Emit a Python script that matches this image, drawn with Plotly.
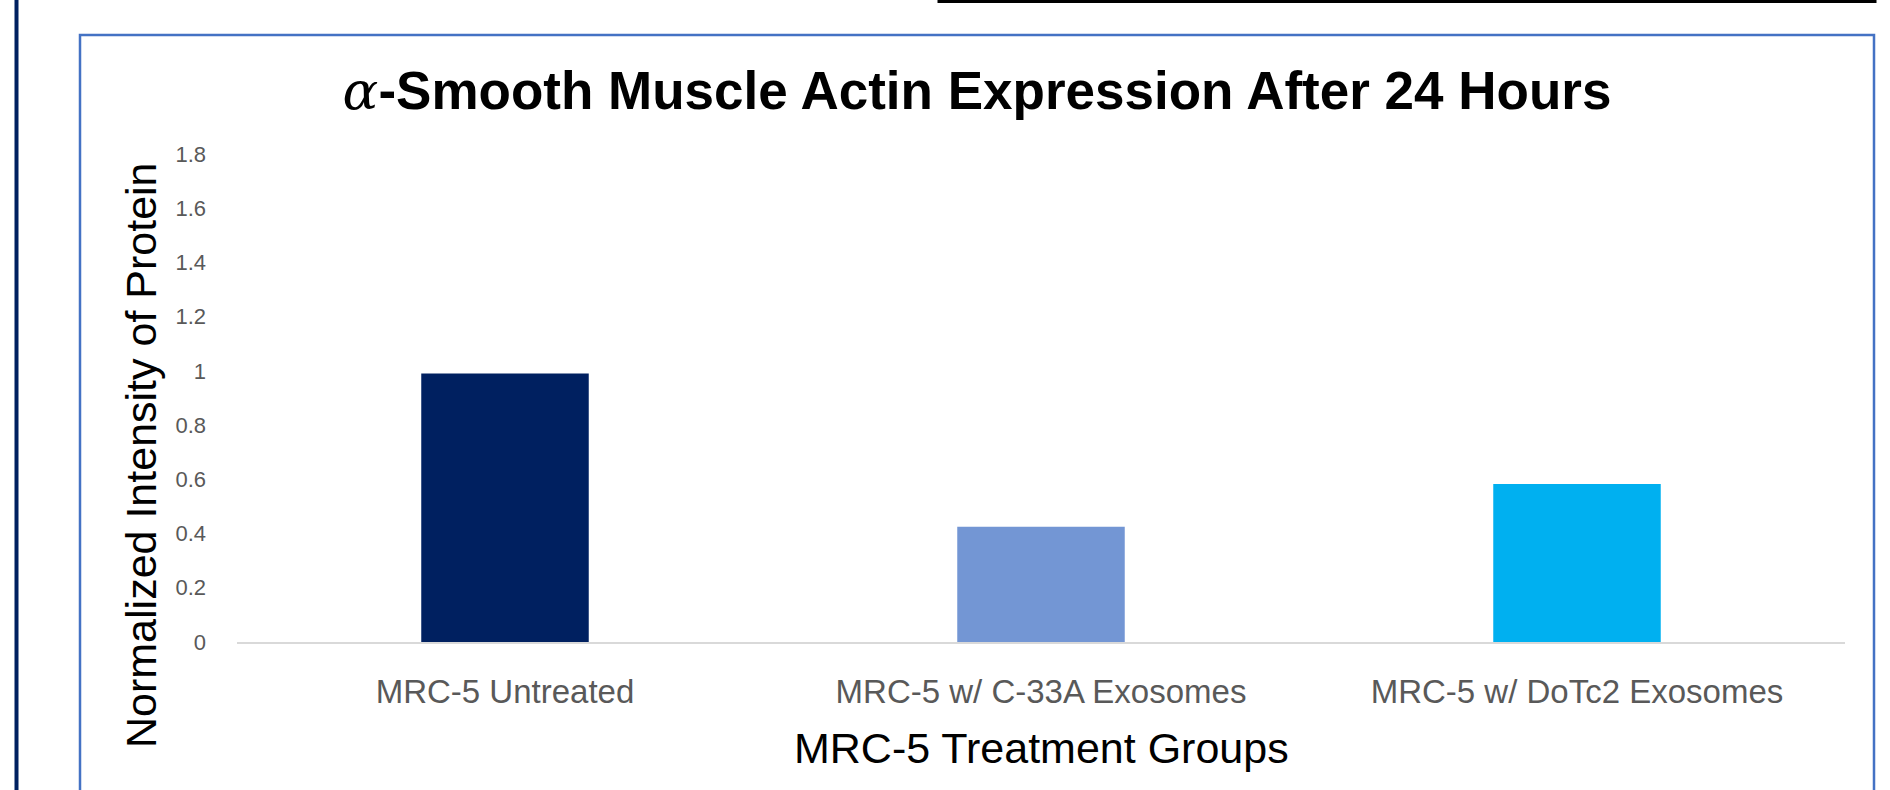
import plotly.graph_objects as go

categories = ["MRC-5 Untreated", "MRC-5 w/ C-33A Exosomes", "MRC-5 w/ DoTc2 Exosomes"]
values = [0.99, 0.425, 0.583]
bar_colors = ["#002060", "#7396D4", "#00B0F0"]
y_ticks = [0, 0.2, 0.4, 0.6, 0.8, 1.0, 1.2, 1.4, 1.6, 1.8]

W, H = 1890, 790
L, R, T, B = 237, 1845, 154, 642


def px(x):
    return (x - L) / (R - L)


def py(y):
    return (B - y) / (B - T)


fig = go.Figure(
    go.Bar(
        x=categories,
        y=values,
        marker=dict(color=bar_colors, line=dict(width=0)),
        hoverinfo="x+y",
    )
)

fig.update_layout(
    width=W,
    height=H,
    margin=dict(l=L, r=W - R, t=T, b=H - B, pad=0),
    paper_bgcolor="white",
    plot_bgcolor="white",
    bargap=0.6875,
    showlegend=False,
    title=dict(
        text='<span style="font-family:DejaVu Serif;font-weight:normal;font-style:italic">α</span>-Smooth Muscle Actin Expression After 24 Hours',
        font=dict(family="Liberation Sans, Arial", size=53, color="black", weight="bold"),
        x=977 / W,
        xanchor="center",
        xref="container",
        y=1 - 90 / H,
        yanchor="middle",
        yref="container",
    ),
    xaxis=dict(
        showline=True,
        linecolor="#D9D9D9",
        linewidth=2,
        showgrid=False,
        ticks="",
        tickfont=dict(family="Liberation Sans, Arial", size=33, color="#595959"),
        ticklabelstandoff=19,
        fixedrange=True,
    ),
    yaxis=dict(
        range=[0, 1.8],
        tickvals=y_ticks,
        ticktext=[f"{v:g}" for v in y_ticks],
        showgrid=False,
        showline=False,
        zeroline=False,
        ticks="",
        tickfont=dict(family="Liberation Sans, Arial", size=22, color="#595959"),
        ticklabelstandoff=30,
        fixedrange=True,
    ),
    annotations=[
        dict(
            text="Normalized Intensity of Protein",
            textangle=-90,
            xref="paper",
            yref="paper",
            x=px(141),
            y=py(455),
            xanchor="center",
            yanchor="middle",
            showarrow=False,
            font=dict(family="Liberation Sans, Arial", size=43, color="black"),
        ),
        dict(
            text="MRC-5 Treatment Groups",
            xref="paper",
            yref="paper",
            x=0.5,
            y=py(748),
            xanchor="center",
            yanchor="middle",
            showarrow=False,
            font=dict(family="Liberation Sans, Arial", size=43, color="black"),
        ),
    ],
    shapes=[
        dict(type="line", xref="paper", yref="paper",
             x0=px(16.5), x1=px(16.5), y0=py(-5), y1=py(800),
             line=dict(color="#002060", width=4)),
        dict(type="rect", xref="paper", yref="paper",
             x0=px(80), x1=px(1874), y0=py(35), y1=py(820),
             line=dict(color="#4472C4", width=2.5)),
        dict(type="rect", xref="paper", yref="paper",
             x0=px(939), x1=px(1875), y0=py(1.5), y1=py(-30),
             line=dict(color="black", width=3)),
    ],
)

fig.write_html(
    "out.html",
    config={"displayModeBar": False},
    post_script="document.body.style.margin='0';document.body.style.overflow='hidden';",
)
